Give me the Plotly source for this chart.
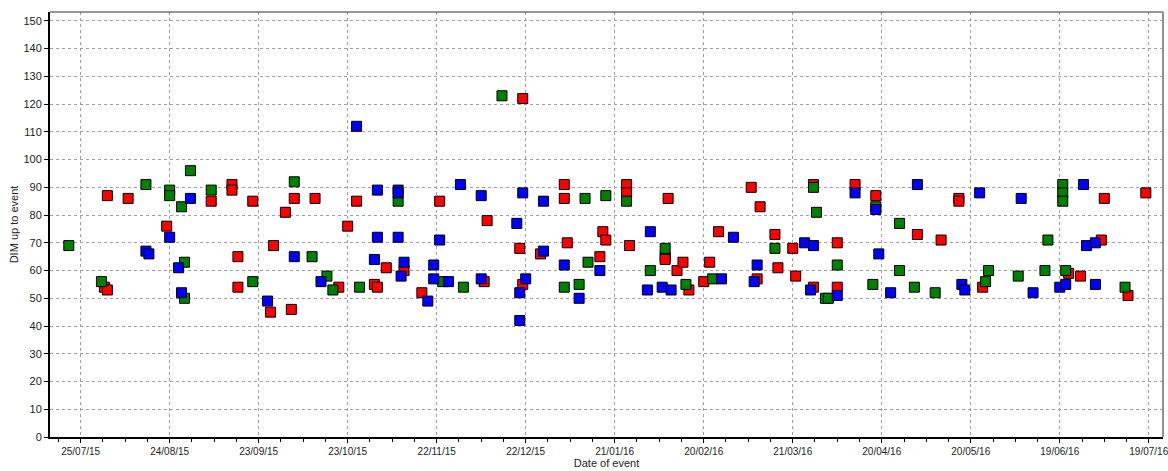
import plotly.graph_objects as go

# ---- data ----
red_dates = ["2015-08-02", "2015-08-03", "2015-08-03", "2015-08-10", "2015-08-23", "2015-09-07",
             "2015-09-14", "2015-09-14", "2015-09-16", "2015-09-16", "2015-09-21", "2015-09-27",
             "2015-09-28", "2015-10-02", "2015-10-04", "2015-10-05", "2015-10-12", "2015-10-20",
             "2015-10-23", "2015-10-26", "2015-11-01", "2015-11-02", "2015-11-05", "2015-11-11",
             "2015-11-17", "2015-11-23", "2015-12-08", "2015-12-09", "2015-12-20", "2015-12-21",
             "2015-12-21", "2015-12-27", "2016-01-04", "2016-01-04", "2016-01-05", "2016-01-16",
             "2016-01-17", "2016-01-18", "2016-01-25", "2016-01-25", "2016-01-26", "2016-02-07",
             "2016-02-07", "2016-02-08", "2016-02-11", "2016-02-13", "2016-02-15", "2016-02-20",
             "2016-02-22", "2016-02-25", "2016-03-07", "2016-03-09", "2016-03-10", "2016-03-15",
             "2016-03-16", "2016-03-21", "2016-03-22", "2016-03-28", "2016-03-28", "2016-04-05",
             "2016-04-05", "2016-04-11", "2016-04-18", "2016-05-02", "2016-05-10", "2016-05-16",
             "2016-05-16", "2016-05-24", "2016-06-22", "2016-06-26", "2016-07-03", "2016-07-04",
             "2016-07-12", "2016-07-18"]
red_dim = [54, 53, 87, 86, 76, 85,
           91, 89, 65, 54, 85, 45,
           69, 81, 46, 86, 86, 54,
           76, 85, 55, 54, 61, 60,
           52, 85, 56, 78, 68, 122,
           55, 66, 91, 86, 70, 65,
           74, 71, 91, 88, 69, 65,
           64, 86, 60, 63, 53, 56,
           63, 74, 90, 57, 83, 73,
           61, 68, 58, 91, 54, 70,
           54, 91, 87, 73, 71, 86,
           85, 54, 59, 58, 71, 86,
           51, 88]

green_dates = ["2015-07-21", "2015-08-01", "2015-08-16", "2015-08-24", "2015-08-24", "2015-08-29",
               "2015-08-28", "2015-08-31", "2015-08-29", "2015-09-07", "2015-09-21", "2015-10-05",
               "2015-10-11", "2015-10-16", "2015-10-18", "2015-10-27", "2015-11-09", "2015-11-24",
               "2015-12-01", "2015-12-14", "2016-01-04", "2016-01-09", "2016-01-11", "2016-01-12",
               "2016-01-18", "2016-01-25", "2016-02-02", "2016-02-07", "2016-02-14", "2016-02-23",
               "2016-03-15", "2016-03-28", "2016-03-29", "2016-04-01", "2016-04-02", "2016-04-05",
               "2016-04-17", "2016-04-18", "2016-04-26", "2016-04-26", "2016-05-01", "2016-05-08",
               "2016-05-26", "2016-05-25", "2016-06-05", "2016-06-14", "2016-06-15", "2016-06-20",
               "2016-06-20", "2016-06-20", "2016-06-21", "2016-07-11"]
green_dim = [69, 56, 91, 89, 87, 63,
             83, 96, 50, 89, 56, 92,
             65, 58, 53, 54, 85, 56,
             54, 123, 54, 55, 86, 63,
             87, 85, 60, 68, 55, 57,
             68, 90, 81, 50, 50, 62,
             55, 83, 77, 60, 54, 52,
             60, 56, 58, 60, 71, 91,
             88, 85, 60, 54]

blue_dates = ["2015-08-16", "2015-08-17", "2015-08-24", "2015-08-27", "2015-08-28", "2015-08-31",
              "2015-09-26", "2015-10-05", "2015-10-14", "2015-10-26", "2015-11-01", "2015-11-02",
              "2015-11-02", "2015-11-09", "2015-11-09", "2015-11-09", "2015-11-10", "2015-11-11",
              "2015-11-19", "2015-11-21", "2015-11-21", "2015-11-23", "2015-11-26", "2015-11-30",
              "2015-12-07", "2015-12-07", "2015-12-19", "2015-12-20", "2015-12-20", "2015-12-21",
              "2015-12-22", "2015-12-28", "2015-12-28", "2016-01-04", "2016-01-09", "2016-01-16",
              "2016-02-01", "2016-02-02", "2016-02-06", "2016-02-09", "2016-02-26", "2016-03-01",
              "2016-03-08", "2016-03-09", "2016-03-25", "2016-03-27", "2016-03-28", "2016-04-05",
              "2016-04-11", "2016-04-18", "2016-04-19", "2016-04-23", "2016-05-02", "2016-05-17",
              "2016-05-18", "2016-05-23", "2016-06-06", "2016-06-10", "2016-06-19", "2016-06-21",
              "2016-06-27", "2016-06-28", "2016-07-01", "2016-07-01"]
blue_dim = [67, 66, 72, 61, 52, 86,
            49, 65, 56, 112, 64, 89,
            72, 89, 88, 72, 58, 63,
            49, 62, 57, 71, 56, 91,
            87, 57, 77, 52, 42, 88,
            57, 85, 67, 62, 50, 60,
            53, 74, 54, 53, 57, 72,
            56, 62, 70, 53, 69, 51,
            88, 82, 66, 52, 91, 55,
            53, 88, 86, 52, 54, 55,
            91, 69, 70, 55]

y_ticks = list(range(0, 151, 10))
x_range = ["2015-07-14 16:00", "2016-07-23 19:00"]
y_range = [0, 153.2]

series = [
    ("red", red_dates, red_dim, "#ff0000"),
    ("green", green_dates, green_dim, "#008000"),
    ("blue", blue_dates, blue_dim, "#0000ff"),
]

fig = go.Figure()
for name, xs, ys, col in series:
    fig.add_trace(go.Scatter(
        x=xs, y=ys, mode="markers", name=name,
        marker=dict(symbol="square", size=10, color=col,
                    line=dict(color="black", width=1)),
        hoverinfo="x+y",
    ))

font = dict(family="Liberation Sans, Arial, sans-serif", size=11, color="#222222")
xfont = dict(family="Liberation Sans, Arial, sans-serif", size=10, color="#222222")
DAY = 86400000

fig.update_layout(
    width=1168, height=471,
    margin=dict(l=50, r=5, t=12, b=34, autoexpand=False),
    paper_bgcolor="white", plot_bgcolor="white",
    showlegend=False,
    font=font,
    xaxis=dict(
        type="date", range=x_range, automargin=False,
        tick0="2015-07-25", dtick=30 * DAY, tickformat="%d/%m/%y",
        ticks="outside", ticklen=4, tickcolor="black", tickwidth=1,
        ticklabeloverflow="allow",
        showgrid=True, gridcolor="#a0a0a0", griddash="3px,3px", gridwidth=1,
        showline=True, linecolor="black", linewidth=2,
        zeroline=False,
        minor=dict(ticks="outside", ticklen=3, tickcolor="black",
                   tick0="2015-07-25", dtick=7.5 * DAY, showgrid=False),
        title=dict(text="Date of event", standoff=1, font=font),
        tickfont=xfont,
    ),
    yaxis=dict(
        range=y_range, tickvals=y_ticks, automargin=False,
        ticks="outside", ticklen=4, tickcolor="black",
        showgrid=True, gridcolor="#a0a0a0", griddash="3px,3px", gridwidth=1,
        showline=True, linecolor="black", linewidth=2,
        zeroline=False,
        title=dict(text="DIM up to event", standoff=3, font=font),
        tickfont=font,
    ),
    shapes=[
        dict(type="line", xref="paper", yref="paper", x0=0, x1=1, y0=1, y1=1,
             line=dict(color="#333333", width=1)),
        dict(type="line", xref="paper", yref="paper", x0=1, x1=1, y0=0, y1=1,
             line=dict(color="#909090", width=2)),
    ],
)

fig.write_html(
    "out.html",
    config={"displayModeBar": False},
    post_script="document.body.style.margin='0';document.body.style.overflow='hidden';",
)
